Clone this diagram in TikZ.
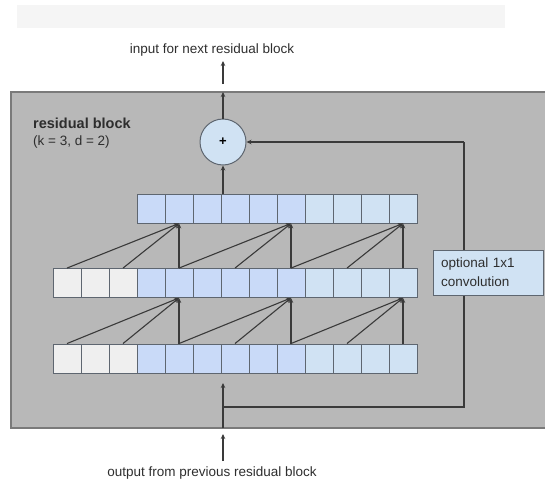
\documentclass[tikz,border=0pt]{standalone}
\usepackage{fontspec}
\setmainfont{Liberation Sans}
\usetikzlibrary{arrows.meta,calc}

\definecolor{boxgray}{HTML}{B8B8B8}
\definecolor{boxedge}{HTML}{7A7A7A}
\definecolor{celledge}{HTML}{5E6670}
\definecolor{padcell}{HTML}{EFEFEF}
\definecolor{bluecell}{HTML}{C9DAF8}
\definecolor{lightcell}{HTML}{D0E2F3}
\definecolor{wire}{HTML}{3A3A3A}
\definecolor{txt}{HTML}{2E2E2E}
\definecolor{band}{HTML}{F5F5F5}

\tikzset{
  cell/.style={draw=celledge, line width=0.9pt, minimum width=28pt, minimum height=29pt, inner sep=0pt},
  pad/.style={cell, fill=padcell},
  blu/.style={cell, fill=bluecell},
  lbl/.style={cell, fill=lightcell},
  wireline/.style={draw=wire, line width=1.1pt},
  arr/.style={wireline, -{Stealth[length=5pt,width=4.5pt]}},
  caption/.style={font=\fontsize{13.5}{16}\selectfont, text=txt, inner sep=0pt},
}

\begin{document}
\begin{tikzpicture}[x=1pt, y=-1pt]
  \useasboundingbox (0,0) rectangle (545,495);

  % faint band along the top
  \fill[band] (17,5) rectangle (505,28);

  % residual block frame
  \draw[fill=boxgray, draw=boxedge, line width=1.4pt] (11,92) rectangle (570,428);
  \coordinate (topedge) at (223,92);
  \coordinate (botedge) at (223,428);

  \node[anchor=west, text=txt, inner sep=0pt, font=\fontsize{14.5}{17}\selectfont\bfseries] (title) at (33,123)
    {residual block};
  \node[anchor=west, text=txt, inner sep=0pt, font=\fontsize{13.5}{16}\selectfont] (params) at (33,142)
    {(k = 3, d = 2)};

  % three rows of cells
  \foreach \i in {1,...,13} {
    \pgfmathsetmacro{\cx}{53+28*(\i-0.5)}
    \ifnum\i<4
      \node[pad] (b\i) at (\cx,358.5) {};
      \node[pad] (m\i) at (\cx,283) {};
    \else\ifnum\i<10
      \node[blu] (b\i) at (\cx,358.5) {};
      \node[blu] (m\i) at (\cx,283) {};
      \node[blu] (t\i) at (\cx,208.5) {};
    \else
      \node[lbl] (b\i) at (\cx,358.5) {};
      \node[lbl] (m\i) at (\cx,283) {};
      \node[lbl] (t\i) at (\cx,208.5) {};
    \fi\fi
  }

  % dilated convolutions (kernel 3, dilation 2)
  \foreach \o/\a/\b/\c in {5/1/3/5, 9/5/7/9, 13/9/11/13} {
    \draw[arr] (b\a.north) -- (m\o.south);
    \draw[arr] (b\b.north) -- (m\o.south);
    \draw[arr] (b\c.north) -- (m\o.south);
    \draw[arr] (m\a.north) -- (t\o.south);
    \draw[arr] (m\b.north) -- (t\o.south);
    \draw[arr] (m\c.north) -- (t\o.south);
  }

  % summation
  \node[circle, draw=celledge, line width=1pt, fill=lightcell, minimum size=46pt, inner sep=0pt] (plus) at (223,142)
    {\fontsize{13}{13}\selectfont\bfseries +};
  \draw[arr] (plus.south |- t6.north) -- (plus.south);
  \draw[arr] (plus.north) -- (topedge);

  % skip path with optional 1x1 convolution
  \coordinate (split) at (223,407);
  \coordinate (corner) at (464,407);
  \draw[wireline] (split) -- (corner) -- (corner |- plus.east);
  \draw[arr] (corner |- plus.east) -- (plus.east);
  \node[draw=celledge, line width=1pt, fill=lightcell, minimum width=110pt, minimum height=45pt,
        text width=94pt, align=left, inner sep=0pt, font=\fontsize{13.5}{19}\selectfont, text=txt]
    (conv) at (488,272.5) {optional 1x1\\convolution};

  % input arriving from below
  \coordinate (inhead) at (223,383);
  \draw[arr] (botedge) -- (inhead);

  % outer labels and arrows
  \node[caption] (outlbl) at (212,50) {input for next residual block};
  \node[caption] (inlbl) at (212,473) {output from previous residual block};
  \coordinate (upfrom) at (223,84);
  \coordinate (upto) at (223,61);
  \draw[arr] (upfrom) -- (upto);
  \coordinate (infrom) at (223,461);
  \coordinate (into) at (223,434);
  \draw[arr] (infrom) -- (into);
\end{tikzpicture}
\end{document}
